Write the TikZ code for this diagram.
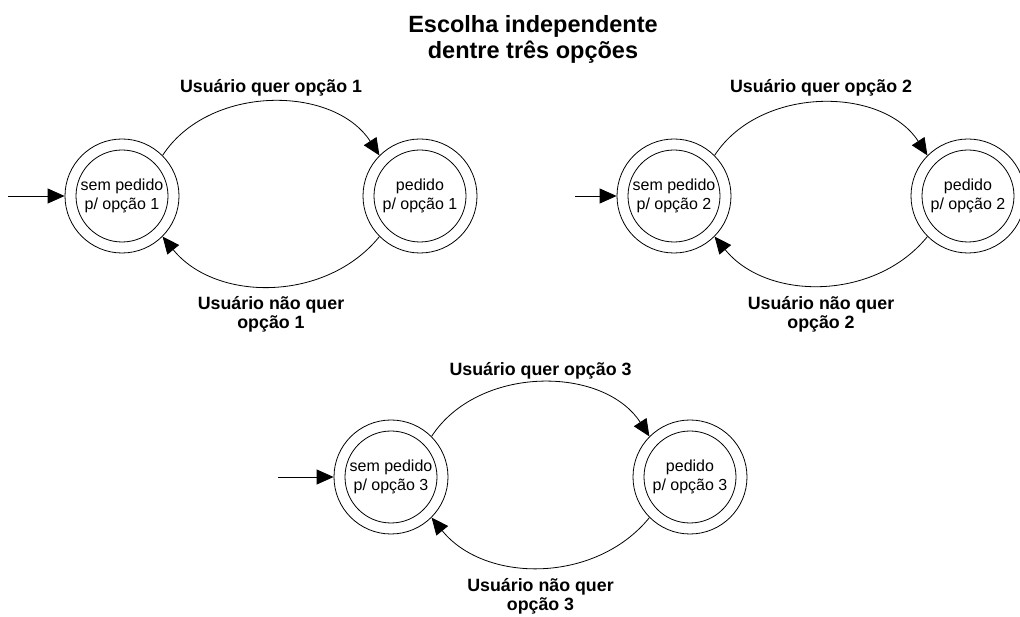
\documentclass[tikz,border=0pt]{standalone}
\usepackage{fontspec}
\setmainfont{Liberation Sans}
\usetikzlibrary{arrows.meta}
\begin{document}
\begin{tikzpicture}[x=1pt,y=1pt,
  outer/.style={circle,draw,line width=0.8pt,minimum size=114pt,inner sep=0pt},
  inner/.style={circle,draw,line width=0.8pt,minimum size=92pt,inner sep=0pt,align=center,font=\fontsize{16}{19.5}\selectfont},
  lbl/.style={align=center,inner sep=0pt,font=\bfseries\fontsize{17.8}{19}\selectfont},
  ttl/.style={align=center,inner sep=0pt,font=\bfseries\fontsize{23.5}{26}\selectfont},
  arr/.style={line width=0.8pt,-{Triangle[length=17pt,width=15pt]}},
  topbend/.style={out=57,in=123},
  botbend/.style={out=-129,in=-51}]
\useasboundingbox (0,0) rectangle (1020,616);
\node[ttl] (title) at (533,577) {Escolha independente\\dentre três opções};
% diagram 1
\node[outer] (L1) at (122,420) {};
\node[inner] (L1i) at (L1) {sem pedido\\p/ opção 1};
\node[outer] (R1) at (420,420) {};
\node[inner] (R1i) at (R1) {pedido\\p/ opção 1};
\coordinate (s1) at (8,420);
\draw[arr] (s1) -- (L1);
\draw[arr] (L1.45) to[topbend] (R1.135);
\draw[arr] (R1.225) to[botbend] (L1.-45);
\node[lbl,anchor=base] (t1) at (271,523) {Usuário quer opção 1};
\node[lbl] (b1) at (271,301.5) {Usuário não quer\\opção 1};
% diagram 2
\node[outer] (L2) at (674,420) {};
\node[inner] (L2i) at (L2) {sem pedido\\p/ opção 2};
\node[outer] (R2) at (968,420) {};
\node[inner] (R2i) at (R2) {pedido\\p/ opção 2};
\coordinate (s2) at (575,420);
\draw[arr] (s2) -- (L2);
\draw[arr] (L2.45) to[topbend] (R2.135);
\draw[arr] (R2.225) to[botbend] (L2.-45);
\node[lbl,anchor=base] (t2) at (821,523) {Usuário quer opção 2};
\node[lbl] (b2) at (821,301.5) {Usuário não quer\\opção 2};
% diagram 3
\node[outer] (L3) at (391,139) {};
\node[inner] (L3i) at (L3) {sem pedido\\p/ opção 3};
\node[outer] (R3) at (690,139) {};
\node[inner] (R3i) at (R3) {pedido\\p/ opção 3};
\coordinate (s3) at (278,139);
\draw[arr] (s3) -- (L3);
\draw[arr] (L3.45) to[topbend] (R3.135);
\draw[arr] (R3.225) to[botbend] (L3.-45);
\node[lbl,anchor=base] (t3) at (540.5,240) {Usuário quer opção 3};
\node[lbl] (b3) at (540.5,19.5) {Usuário não quer\\opção 3};
\end{tikzpicture}
\end{document}
